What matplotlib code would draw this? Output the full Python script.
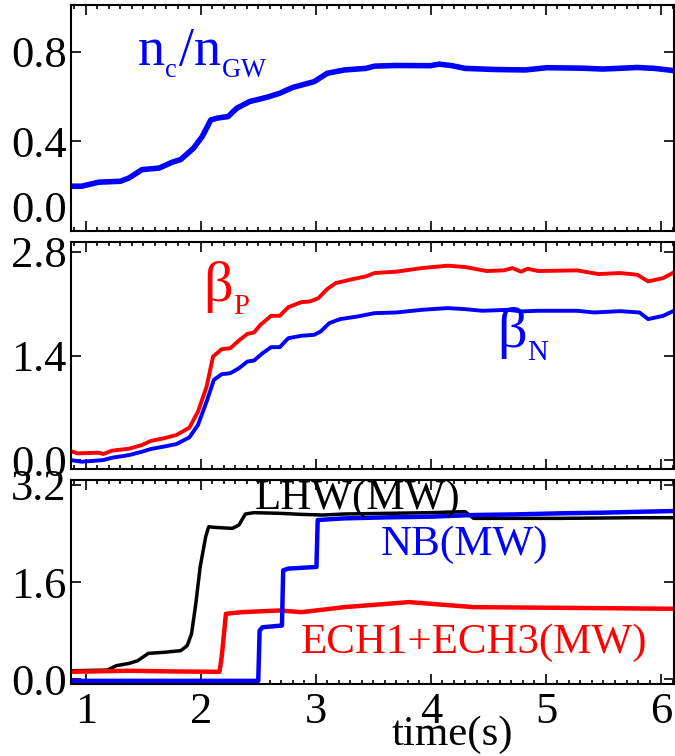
import matplotlib
matplotlib.use("Agg")
import matplotlib.pyplot as plt
from matplotlib.ticker import MultipleLocator, FormatStrFormatter

plt.rcParams['font.family'] = ['Liberation Serif', 'DejaVu Serif']
plt.rcParams['mathtext.fontset'] = 'custom'
plt.rcParams['mathtext.rm'] = 'Liberation Serif'
plt.rcParams['mathtext.it'] = 'Liberation Serif:italic'

# ---- data ----
t_dens = [0.869, 0.963, 1.112, 1.30, 1.375, 1.487, 1.637, 1.749, 1.824, 1.936, 2.011, 2.086,
          2.142, 2.236, 2.311, 2.423, 2.573, 2.685, 2.798, 2.985, 3.097, 3.247, 3.434, 3.509,
          3.697, 3.996, 4.071, 4.184, 4.296, 4.558, 4.82, 5.007, 5.307, 5.494, 5.794, 5.944, 6.112]
nc_ngw = [0.20, 0.20, 0.218, 0.222, 0.237, 0.274, 0.281, 0.307, 0.319, 0.37, 0.422, 0.496,
          0.504, 0.511, 0.548, 0.578, 0.597, 0.615, 0.641, 0.667, 0.704, 0.719, 0.726, 0.736,
          0.739, 0.738, 0.745, 0.738, 0.726, 0.721, 0.719, 0.729, 0.727, 0.723, 0.73, 0.726, 0.716]

t_betap = [0.869, 0.925, 1.112, 1.15, 1.225, 1.375, 1.487, 1.562, 1.674, 1.787, 1.899, 1.974,
           2.049, 2.105, 2.18, 2.255, 2.33, 2.404, 2.461, 2.517, 2.61, 2.685, 2.76, 2.873, 2.948,
           3.022, 3.097, 3.172, 3.322, 3.434, 3.509, 3.697, 3.921, 4.146, 4.296, 4.483, 4.633,
           4.708, 4.783, 4.839, 4.933, 5.27, 5.457, 5.644, 5.794, 5.888, 6.019, 6.112]
beta_p = [0.121, 0.09, 0.099, 0.081, 0.126, 0.153, 0.202, 0.256, 0.292, 0.337, 0.435, 0.651,
          0.987, 1.391, 1.49, 1.503, 1.606, 1.696, 1.714, 1.817, 1.938, 1.938, 2.055, 2.122, 2.131,
          2.176, 2.297, 2.378, 2.432, 2.468, 2.513, 2.531, 2.58, 2.612, 2.594, 2.54, 2.549,
          2.58, 2.531, 2.571, 2.54, 2.549, 2.499, 2.513, 2.49, 2.401, 2.445, 2.522]

t_betan = [0.869, 0.963, 1.15, 1.225, 1.375, 1.487, 1.562, 1.674, 1.787, 1.899, 1.974, 2.049,
           2.112, 2.18, 2.255, 2.33, 2.404, 2.461, 2.536, 2.61, 2.685, 2.76, 2.873, 2.985, 3.041,
           3.116, 3.21, 3.36, 3.509, 3.697, 3.921, 4.146, 4.296, 4.446, 4.67, 4.783, 4.933, 5.27,
           5.419, 5.644, 5.813, 5.888, 6.019, 6.112]
beta_n = [0.0, -0.022, 0.0, 0.031, 0.067, 0.112, 0.148, 0.18, 0.215, 0.305, 0.471, 0.785,
          1.077, 1.153, 1.167, 1.234, 1.324, 1.337, 1.436, 1.517, 1.517, 1.638, 1.67, 1.683, 1.728,
          1.84, 1.894, 1.929, 1.974, 1.983, 2.019, 2.042, 2.028, 2.006, 2.019, 1.997, 2.006, 2.006,
          1.983, 2.001, 1.983, 1.894, 1.938, 2.006]

t_lhw = [0.869, 1.187, 1.262, 1.375, 1.449, 1.543, 1.674, 1.824, 1.88, 1.918, 1.955, 1.993,
         2.041, 2.067, 2.124, 2.273, 2.33, 2.386, 2.461, 2.685, 2.873, 3.06, 3.247, 3.622, 3.996,
         4.296, 4.371, 5.12, 5.794, 6.112]
p_lhw = [0.138, 0.149, 0.221, 0.259, 0.303, 0.425, 0.441, 0.469, 0.552, 0.745, 1.241, 1.848,
         2.345, 2.51, 2.499, 2.483, 2.538, 2.72, 2.742, 2.731, 2.714, 2.703, 2.72, 2.731, 2.742,
         2.759, 2.648, 2.648, 2.659, 2.659]

t_nb = [0.869, 2.498, 2.51, 2.536, 2.704, 2.715, 2.76, 3.004, 3.015, 3.247, 3.622, 3.996,
        4.371, 4.745, 5.12, 5.494, 5.869, 6.112]
p_nb = [-0.028, -0.028, 0.80, 0.855, 0.883, 1.793, 1.821, 1.848, 2.621, 2.648, 2.665, 2.676,
        2.703, 2.714, 2.731, 2.742, 2.759, 2.769]

t_ech = [0.869, 1.375, 1.749, 2.161, 2.18, 2.217, 2.348, 2.685, 2.873, 3.247, 3.622, 3.809,
         3.996, 4.371, 5.12, 6.112]
p_ech = [0.121, 0.138, 0.127, 0.121, 0.359, 1.076, 1.103, 1.131, 1.103, 1.186, 1.241, 1.269,
         1.241, 1.186, 1.175, 1.159]

xticks = [1, 2, 3, 4, 5, 6]
yticks1 = [0.0, 0.4, 0.8]
yticks2 = [0.0, 1.4, 2.8]
yticks3 = [0.0, 1.6, 3.2]

W, H = 675, 756
fig = plt.figure(figsize=(W / 100, H / 100), dpi=100)

def pos(top, bottom, left=71, right=674):
    return [left / W, 1 - bottom / H, (right - left) / W, (bottom - top) / H]

ax1 = fig.add_axes(pos(5, 231))
ax2 = fig.add_axes(pos(242, 469))
ax3 = fig.add_axes(pos(480, 684))

TICKFS = 32
LABFS = 31

for ax, yt, ylim in ((ax1, yticks1, (0.005, 1.009)),
                     (ax2, yticks2, (-0.12, 2.93)),
                     (ax3, yticks3, (-0.08, 3.28))):
    ax.set_xlim(0.87, 6.113)
    ax.set_ylim(*ylim)
    ax.set_xticks(xticks)
    ax.xaxis.set_minor_locator(MultipleLocator(0.1))
    ax.set_yticks(yt)
    ax.yaxis.set_major_formatter(FormatStrFormatter('%.1f'))
    ax.tick_params(which='both', direction='in', top=True, right=True,
                   labelsize=TICKFS, width=1.2, pad=3)
    ax.tick_params(which='major', length=7)
    ax.tick_params(which='minor', length=3)
    for s in ax.spines.values():
        s.set_linewidth(1.5)
    if ax is not ax3:
        ax.tick_params(axis='x', labelbottom=False)

ax3.tick_params(axis='x', pad=6)

# the lowest label of the top panel sits above its tick in the reference
ax1.yaxis.get_major_ticks()[0].label1.set_verticalalignment('bottom')

# panel 1
ax1.plot(t_dens, nc_ngw, color='#0000ff', lw=4.0, solid_capstyle='butt')
ax1.text(1.44, 0.742, r'n$_{_\mathrm{c}}$/n$_{_\mathrm{GW}}$', color='#0000ff', fontsize=39,
         ha='left', va='baseline')

# panel 2
ax2.plot(t_betap, beta_p, color='#ff0000', lw=2.8)
ax2.plot(t_betan, beta_n, color='#0000ff', lw=2.8)
ax2.text(2.02, 2.13, r'β$_{_\mathrm{P}}$', color='#ff0000', fontsize=42, ha='left', va='baseline')
ax2.text(4.57, 1.51, r'β$_{_\mathrm{N}}$', color='#0000ff', fontsize=42, ha='left', va='baseline')

# panel 3
ax3.plot(t_lhw, p_lhw, color='black', lw=2.5)
ax3.plot(t_ech, p_ech, color='#ff0000', lw=3.2)
ax3.plot(t_nb, p_nb, color='#0000ff', lw=3.2)
ax3.text(2.47, 2.80, 'LHW(MW)', color='black', fontsize=LABFS, ha='left', va='baseline')
ax3.text(3.56, 2.05, 'NB(MW)', color='#0000ff', fontsize=LABFS, ha='left', va='baseline')
ax3.text(2.87, 0.43, 'ECH1+ECH3(MW)', color='#ff0000', fontsize=LABFS, ha='left', va='baseline')

fig.text(452 / W, 1 - 745 / H, 'time(s)', fontsize=LABFS, ha='center', va='baseline')

fig.savefig('out.png', dpi=100)
